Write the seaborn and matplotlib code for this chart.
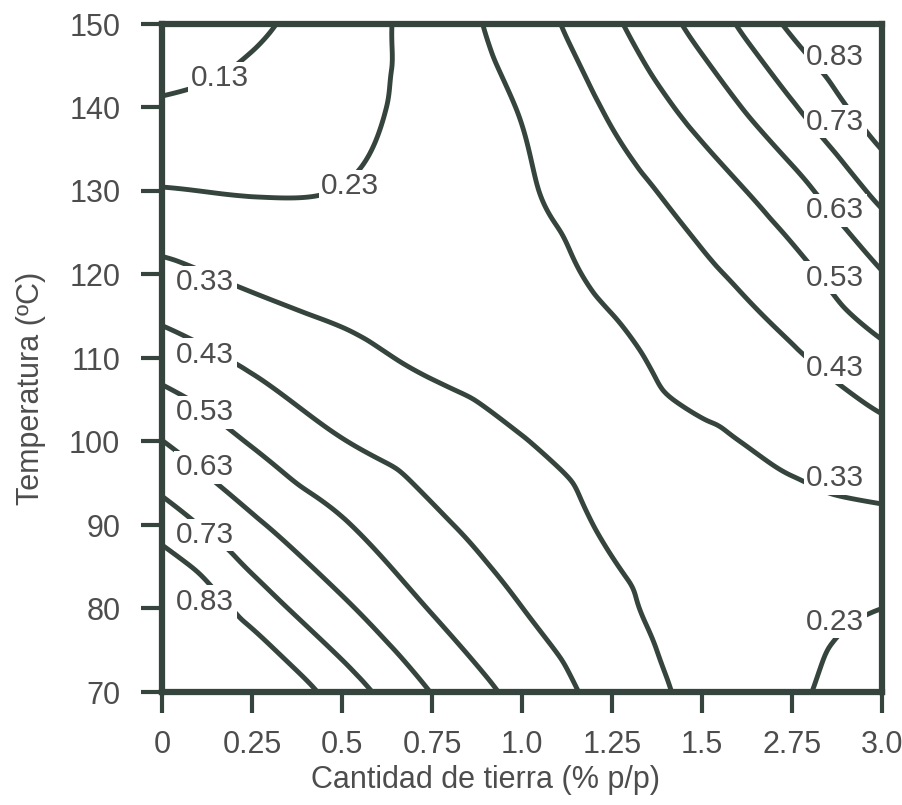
import numpy as np
import matplotlib
matplotlib.use("Agg")
import matplotlib.pyplot as plt
import matplotlib.tri as mtri
import seaborn as sns

# ---- data ----
x_labels = ["0", "0.25", "0.5", "0.75", "1.0", "1.25", "1.5", "2.75", "3.0"]
x_pos = [0, 1, 2, 3, 4, 5, 6, 7, 8]           # equally spaced tick positions
temps = [70, 80, 90, 100, 110, 120, 130, 140, 150]
levels = [0.13, 0.23, 0.33, 0.43, 0.53, 0.63, 0.73, 0.83]

# response values at (temperature row, x tick column), estimated from the contours
z_70  = [1.12, 0.97, 0.783, 0.627, 0.501, 0.39, 0.306, 0.241, 0.20]
z_80  = [0.97, 0.791, 0.649, 0.524, 0.431, 0.351, 0.29, 0.255, 0.23]
z_90  = [0.787, 0.649, 0.54, 0.448, 0.381, 0.32, 0.30, 0.30, 0.307]
z_100 = [0.632, 0.522, 0.434, 0.383, 0.333, 0.31, 0.318, 0.353, 0.40]
z_110 = [0.483, 0.41, 0.356, 0.315, 0.30, 0.315, 0.363, 0.417, 0.504]
z_120 = [0.355, 0.31, 0.285, 0.28, 0.30, 0.347, 0.411, 0.496, 0.625]
z_130 = [0.235, 0.225, 0.232, 0.279, 0.319, 0.388, 0.478, 0.593, 0.76]
z_140 = [0.142, 0.17, 0.205, 0.262, 0.336, 0.445, 0.569, 0.719, 0.90]
z_150 = [0.05, 0.11, 0.186, 0.272, 0.377, 0.512, 0.665, 0.85, 1.02]

# label placement (x tick units, temperature) -- layout only
left_label_pos = {0.13: (0.64, 143.5), 0.23: (2.09, 130.6), 0.33: (0.48, 119.1),
                  0.43: (0.48, 110.4), 0.53: (0.48, 103.5), 0.63: (0.48, 96.9),
                  0.73: (0.48, 88.8), 0.83: (0.48, 80.8)}
right_label_pos = {0.83: (7.48, 146.0), 0.73: (7.48, 138.3), 0.63: (7.48, 127.7),
                   0.53: (7.48, 119.6), 0.43: (7.48, 108.8), 0.33: (7.48, 95.6),
                   0.23: (7.48, 78.4)}

Z = np.array([z_70, z_80, z_90, z_100, z_110, z_120, z_130, z_140, z_150])
X, Y = np.meshgrid(x_pos, temps)

sns.set_style("white")
plt.rcParams["font.family"] = ["Liberation Sans", "DejaVu Sans"]

line_col = "#35443c"
text_col = "#4d4d4d"

fig = plt.figure(figsize=(9.02, 8.05), dpi=100)
ax = fig.add_axes([162 / 902, 1 - 692 / 805, 720 / 902, 668 / 805])

tri = mtri.Triangulation(X.ravel(), Y.ravel())
interp = mtri.CubicTriInterpolator(tri, Z.ravel(), kind="geom")
xf = np.linspace(0, 8, 241)
yf = np.linspace(70, 150, 241)
XF, YF = np.meshgrid(xf, yf)
ZF = interp(XF, YF)

ax.contour(XF, YF, ZF, levels=levels, colors=line_col, linewidths=3.5)

bbox = dict(boxstyle="square,pad=0.08", fc="white", ec="none")
for lev, (px, py) in left_label_pos.items():
    ax.text(px, py, f"{lev:.2f}", ha="center", va="center", fontsize=21.5,
            color=text_col, bbox=bbox, zorder=5)
for lev, (px, py) in right_label_pos.items():
    ax.text(px, py, f"{lev:.2f}", ha="center", va="center", fontsize=21.5,
            color=text_col, bbox=bbox, zorder=5)

ax.set_xlim(0, 8)
ax.set_ylim(70, 150)
ax.set_xticks(x_pos)
ax.set_xticklabels(x_labels)
ax.set_yticks(temps)

for s in ax.spines.values():
    s.set_linewidth(4.5)
    s.set_color(line_col)

ax.tick_params(axis="both", direction="out", length=15, width=3, color=line_col,
               labelsize=22, labelcolor=text_col)
ax.tick_params(axis="x", pad=12, bottom=True, top=False)
ax.tick_params(axis="y", pad=15, left=True, right=False)

ax.set_xlabel("Cantidad de tierra (% p/p)", fontsize=22, color=text_col)
ax.set_ylabel("Temperatura (ºC)", fontsize=22, color=text_col)
ax.xaxis.set_label_coords(0.449, -0.11)
ax.yaxis.set_label_coords(-0.161, 0.455)

fig.savefig("out.png", dpi=100)
